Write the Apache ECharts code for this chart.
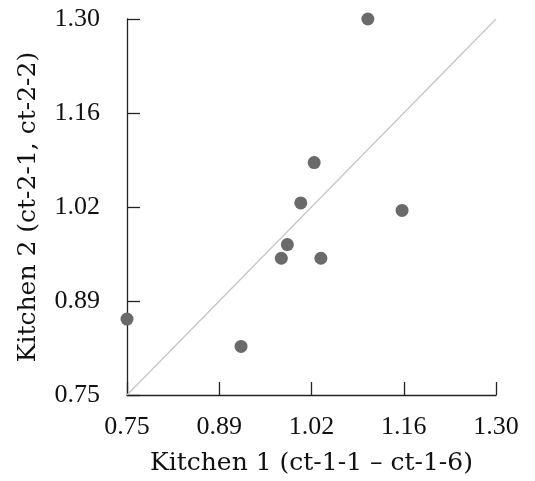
<!DOCTYPE html>
<html>
<head>
<meta charset="utf-8">
<script src="https://cdn.jsdelivr.net/npm/echarts@6/dist/echarts.min.js"></script>
<style>
  html, body { margin: 0; padding: 0; background: #fff; }
  #main { width: 535px; height: 481px; }
</style>
</head>
<body>
<div id="main"></div>
<script>
// ratios
var kitchen1 = [1.109, 1.029, 1.009, 1.160, 0.989, 0.980, 1.039, 0.750, 0.920];
var kitchen2 = [1.300, 1.090, 1.031, 1.020, 0.970, 0.950, 0.950, 0.861, 0.821];
var tickValues = [0.75, 0.8875, 1.025, 1.1625, 1.30];
var tickLabels = ['0.75', '0.89', '1.02', '1.16', '1.30'];
var diagonal = [[0.75, 0.75], [1.30, 1.30]];

var points = kitchen1.map(function (x, i) { return [x, kitchen2[i]]; });

function labelFor(v) {
    var best = 0;
    for (var i = 1; i < tickValues.length; i++) {
        if (Math.abs(tickValues[i] - v) < Math.abs(tickValues[best] - v)) best = i;
    }
    return tickLabels[best];
}

var font = '"Liberation Serif", serif';
var nameFont = '"DejaVu Serif", serif';

function axis(name, gap, margin) {
    return {
        type: 'value',
        min: 0.75,
        max: 1.30,
        name: name,
        nameLocation: 'middle',
        nameGap: gap,
        nameTextStyle: { fontFamily: nameFont, fontSize: 25, color: '#111' },
        axisLine: { show: true, lineStyle: { color: '#222', width: 1.3 } },
        axisTick: { show: true, inside: true, length: 13, customValues: tickValues,
                    lineStyle: { color: '#222', width: 1.3 } },
        axisLabel: { customValues: tickValues, formatter: labelFor, margin: margin,
                     fontFamily: font, fontSize: 26, color: '#111' },
        splitLine: { show: false }
    };
}

var myChart = echarts.init(document.getElementById('main'));

option = {
    animation: false,
    grid: { left: 127, right: 39, top: 19, bottom: 84 },
    xAxis: axis('Kitchen 1 (ct-1-1 \u2013 ct-1-6)', 56, 19),
    yAxis: axis('Kitchen 2 (ct-2-1, ct-2-2)', 86, 27),
    series: [
        {
            type: 'line',
            data: diagonal,
            symbol: 'none',
            lineStyle: { color: '#c4c4c4', width: 1.2 },
            z: 1
        },
        {
            type: 'scatter',
            data: points,
            symbolSize: 13,
            clip: false,
            itemStyle: { color: '#6a6a6a', opacity: 1 },
            z: 2
        }
    ]
};

myChart.setOption(option);
</script>
</body>
</html>
